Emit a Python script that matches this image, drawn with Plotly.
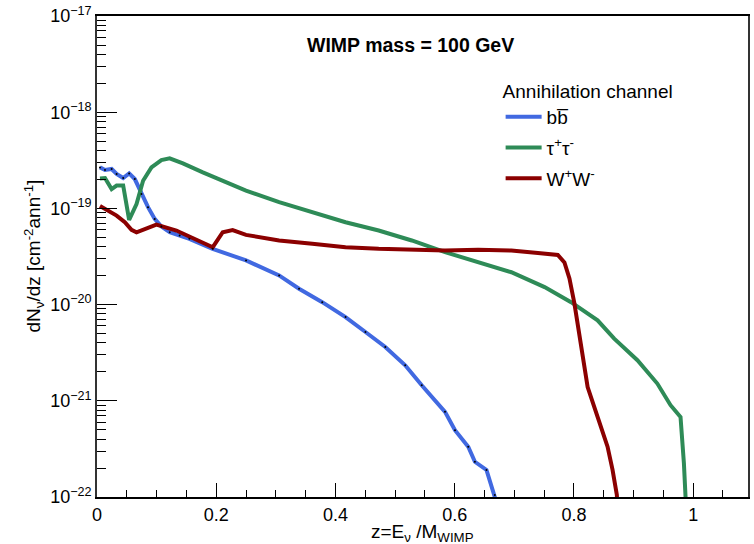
import plotly.graph_objects as go

# ---- data ----
z_bb = [0.005, 0.0134, 0.0245, 0.0329, 0.0439, 0.0539, 0.0634, 0.0746, 0.0856, 0.0968,
        0.108, 0.122, 0.1386, 0.155, 0.194, 0.25, 0.3055, 0.3389, 0.3778, 0.4169,
        0.4503, 0.4836, 0.517, 0.5447, 0.5838, 0.6005, 0.6227, 0.6339, 0.6533, 0.6673, 0.672]
dn_bb = [2.67e-19, 2.51e-19, 2.57e-19, 2.28e-19, 2.07e-19, 2.31e-19, 2.02e-19, 1.41e-19, 1.03e-19, 7.78e-20,
         6.47e-20, 5.65e-20, 5.22e-20, 4.83e-20, 3.80e-20, 2.88e-20, 2.01e-20, 1.46e-20, 1.06e-20, 7.41e-21,
         5.19e-21, 3.62e-21, 2.34e-21, 1.45e-21, 7.67e-22, 4.95e-22, 3.33e-22, 2.32e-22, 1.91e-22, 1.05e-22, 8.0e-23]

z_tau = [0.005, 0.0134, 0.0245, 0.0329, 0.0439, 0.0539, 0.0663, 0.0773, 0.0913, 0.108,
         0.1219, 0.1441, 0.1775, 0.2109, 0.2499, 0.3055, 0.3611, 0.4169, 0.4725, 0.528,
         0.5838, 0.6394, 0.695, 0.7508, 0.7952, 0.8397, 0.8676, 0.9065, 0.9399, 0.9621,
         0.9788, 0.9845, 0.9871, 0.988]
dn_tau = [2.05e-19, 2.07e-19, 1.59e-19, 1.73e-19, 1.73e-19, 7.60e-20, 1.11e-19, 1.94e-19, 2.67e-19, 3.18e-19,
          3.31e-19, 2.94e-19, 2.37e-19, 1.94e-19, 1.53e-19, 1.16e-19, 9.12e-20, 7.18e-20, 5.89e-20, 4.64e-20,
          3.51e-20, 2.76e-20, 2.17e-20, 1.52e-20, 1.06e-20, 6.86e-21, 4.43e-21, 2.64e-21, 1.51e-21, 9.00e-22,
          6.79e-22, 2.23e-22, 1.0e-22, 8.0e-23]

z_ww = [0.005, 0.0162, 0.0329, 0.0467, 0.0579, 0.0663, 0.0996, 0.1331, 0.172, 0.1942,
        0.2109, 0.2275, 0.2499, 0.3055, 0.3611, 0.4169, 0.4725, 0.528, 0.5838, 0.6394,
        0.695, 0.7396, 0.773, 0.7841, 0.7925, 0.8008, 0.8119, 0.823, 0.8397, 0.8564,
        0.8648, 0.872, 0.873]
dn_ww = [1.06e-19, 9.64e-20, 8.42e-20, 7.18e-20, 5.99e-20, 5.65e-20, 6.79e-20, 5.89e-20, 4.64e-20, 3.95e-20,
         5.65e-20, 5.96e-20, 5.31e-20, 4.64e-20, 4.28e-20, 3.95e-20, 3.80e-20, 3.71e-20, 3.65e-20, 3.71e-20,
         3.65e-20, 3.44e-20, 3.28e-20, 2.74e-20, 1.87e-20, 1.03e-20, 3.62e-21, 1.39e-21, 6.81e-22, 3.33e-22,
         1.91e-22, 1.05e-22, 8.0e-23]

names = ["bb\u0305", "\u03c4<sup>+</sup>\u03c4<sup>-</sup>", "W<sup>+</sup>W<sup>-</sup>"]
colors = ["#4169E1", "#2E8B57", "#8B0000"]

# tick positions and labels
y_major = [1e-22, 1e-21, 1e-20, 1e-19, 1e-18, 1e-17]
y_labels = ["10<sup>\u221222</sup>", "10<sup>\u221221</sup>", "10<sup>\u221220</sup>",
            "10<sup>\u221219</sup>", "10<sup>\u221218</sup>", "10<sup>\u221217</sup>"]
y_minor = [k * 10.0 ** e for e in range(-22, -17) for k in range(2, 10)]

FONT = "Liberation Sans, Arial, sans-serif"

fig = go.Figure()
for i, (zx, dn, nm, col) in enumerate([(z_bb, dn_bb, names[0], colors[0]),
                                       (z_tau, dn_tau, names[1], colors[1]),
                                       (z_ww, dn_ww, names[2], colors[2])]):
    fig.add_trace(go.Scatter(x=zx, y=dn, mode="lines", name=nm, legendgroup=f"g{i}",
                             line=dict(color=col, width=4), cliponaxis=True))

# small black point markers on the b-bbar curve
fig.add_trace(go.Scatter(x=z_bb, y=dn_bb, mode="markers", showlegend=False, legendgroup="g0",
                         marker=dict(color="black", size=2), hoverinfo="skip"))

fig.update_layout(
    width=754, height=544,
    margin=dict(l=97, r=4, t=15, b=47),
    paper_bgcolor="white", plot_bgcolor="white",
    font=dict(family=FONT, color="black", size=18),
    legend=dict(
        title=dict(text="Annihilation channel", font=dict(size=19, family=FONT)),
        font=dict(size=19, family=FONT),
        x=0.62, y=0.881, xanchor="left", yanchor="top",
        bgcolor="rgba(0,0,0,0)", itemwidth=36, tracegroupgap=3,
    ),
    showlegend=True,
)

fig.update_xaxes(
    range=[0, 1.092], showgrid=False, zeroline=False,
    showline=True, linecolor="black", linewidth=2, mirror=True,
    ticks="inside", ticklen=14, tickwidth=1, tickcolor="black",
    dtick=0.2, tick0=0, tickformat="~g",
    tickfont=dict(size=18, family=FONT),
    minor=dict(ticks="inside", ticklen=7, tickwidth=1, tickcolor="black", dtick=0.05, tick0=0),
)
fig.update_yaxes(
    type="log", range=[-22.0005, -16.9995], showgrid=False, zeroline=False,
    showline=True, linecolor="#333333", linewidth=1.5, mirror=True,
    ticks="inside", ticklen=20, tickwidth=1, tickcolor="black",
    tickmode="array", tickvals=y_major, ticktext=y_labels,
    tickfont=dict(size=18, family=FONT),
    minor=dict(ticks="inside", ticklen=9, tickwidth=1, tickcolor="black",
               tickmode="array", tickvals=y_minor),
)

fig.add_annotation(text="<b>WIMP mass = 100 GeV</b>", xref="paper", yref="paper",
                   x=(411 - 97) / 653, y=(497 - 44) / 482, xanchor="center", yanchor="middle",
                   showarrow=False, font=dict(size=19.5, family=FONT))
fig.add_annotation(text="z=E<sub>\u03bd</sub> /M<sub>WIMP</sub>", xref="paper", yref="paper",
                   x=0.5, y=0, yshift=-22, xanchor="center", yanchor="top",
                   showarrow=False, font=dict(size=19, family=FONT))
fig.add_annotation(text="dN<sub>\u03bd</sub>/dz [cm<sup>-2</sup>ann<sup>-1</sup>]", xref="paper", yref="paper",
                   x=0, xshift=-63, y=0.5, xanchor="center", yanchor="middle", textangle=-90,
                   showarrow=False, font=dict(size=19, family=FONT))

fig.write_html("out.html")
